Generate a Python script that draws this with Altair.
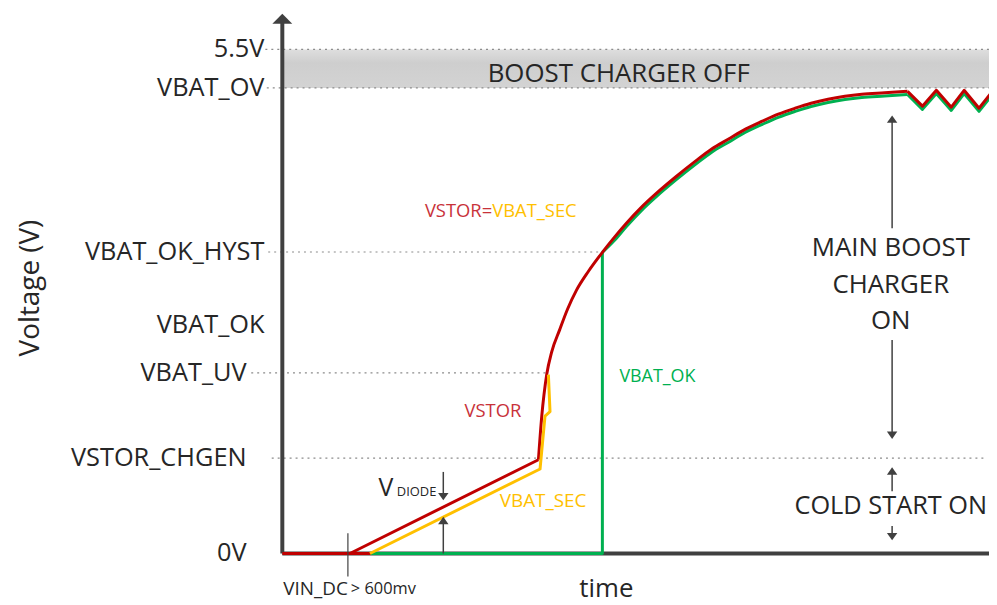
import altair as alt
import pandas as pd

FONT = "Open Sans"
DARK = "#404040"
TXT = "#262626"
RED = "#c00000"
RED_TXT = "#c8323a"
YEL = "#ffc000"
GRN = "#00b050"

# ---- voltage levels (y tick labels) ----
level_names = ["0V", "VSTOR_CHGEN", "VBAT_UV", "VBAT_OK", "VBAT_OK_HYST", "VBAT_OV", "5.5V"]
level_v = [0.0, 1.04, 1.97, 2.49, 3.29, 5.08, 5.5]

# ---- traces (time in arbitrary units 0..100, voltage) ----
red_t = [0, 12.4, 9.56, 36.24, 36.71, 37.41, 38.12, 39.24, 40.37, 41.63, 43.32, 45.29,
         46.98, 48.66, 50.77, 52.88, 55.70, 58.51, 60.76, 63.15, 65.54, 67.93, 70.18,
         72.57, 74.82, 77.22, 79.61, 82.00, 85.23, 88.47, 90.58, 92.55, 94.66, 96.48,
         98.59, 100.28]
red_v = [0, 0, 0, 1.023, 1.497, 1.952, 2.20, 2.440, 2.668, 2.874, 3.080, 3.286,
         3.449, 3.601, 3.774, 3.926, 4.111, 4.284, 4.414, 4.523, 4.631, 4.718, 4.794,
         4.859, 4.913, 4.957, 4.989, 5.011, 5.027, 5.043, 4.881, 5.054, 4.870, 5.054,
         4.859, 5.022]

green_t = [12.4, 45.29, 45.29, 46.98, 48.66, 50.77, 52.88, 55.70, 58.51, 60.76, 63.15,
           65.54, 67.93, 70.18, 72.57, 74.82, 77.22, 79.61, 82.00, 85.23, 88.47, 90.58,
           92.55, 94.66, 96.48, 98.59, 100.28]
green_v = [0, 0, 3.286, 3.415, 3.566, 3.739, 3.891, 4.076, 4.249, 4.379, 4.488,
           4.596, 4.683, 4.759, 4.824, 4.878, 4.922, 4.954, 4.976, 4.992, 5.008, 4.846,
           5.019, 4.835, 5.019, 4.824, 4.987]

yellow_t = [12.4, 36.47, 37.17, 37.88, 37.65]
yellow_v = [0, 0.922, 1.50, 1.548, 1.952]

XS = alt.Scale(domain=[0, 100], nice=False, zero=False)
YS = alt.Scale(domain=[0, 5.9], nice=False, zero=False)


def X(f="t"):
    return alt.X(f"{f}:Q", scale=XS, axis=None)


def Y(f="v"):
    return alt.Y(f"{f}:Q", scale=YS, axis=None)


def series(ts, vs, color, width=3, interp="linear"):
    df = pd.DataFrame({"t": ts, "v": vs, "i": list(range(len(ts)))})
    return alt.Chart(df).mark_line(color=color, strokeWidth=width, strokeJoin="round",
                                   interpolate=interp).encode(x=X(), y=Y(), order="i:Q")


def seg(t0, t1, v0, v1, color=DARK, width=1.5, dash=None):
    df = pd.DataFrame({"t0": [t0], "t1": [t1], "v0": [v0], "v1": [v1]})
    kw = dict(color=color, strokeWidth=width, strokeCap="butt")
    if dash:
        kw["strokeDash"] = dash
    return alt.Chart(df).mark_rule(**kw).encode(x=X("t0"), x2="t1:Q", y=Y("v0"), y2="v1:Q")


def head(t, v, path, size, color=DARK):
    df = pd.DataFrame({"t": [t], "v": [v]})
    return alt.Chart(df).mark_point(shape=path, size=size, filled=True, color=color,
                                    opacity=1, strokeWidth=0).encode(x=X(), y=Y())


def txt(label, t, v, size=16, color=TXT, align="center", baseline="middle"):
    df = pd.DataFrame({"t": [t], "v": [v], "label": [label]})
    return alt.Chart(df).mark_text(font=FONT, fontSize=size, color=color, align=align,
                                   baseline=baseline).encode(x=X(), y=Y(), text="label:N")


UP = "M-1,0.7L0,-0.7L1,0.7Z"
DOWN = "M-1,-0.7L0,0.7L1,-0.7Z"
BIG_UP = "M-1,0.5L0,-0.5L1,0.5Z"
RIGHT = "M-0.5,-1L0.5,0L-0.5,1Z"

grad = alt.Gradient(gradient="linear", x1=0, x2=0, y1=0, y2=1,
                    stops=[alt.GradientStop(offset=0, color="#dedede"),
                           alt.GradientStop(offset=0.35, color="#cecece"),
                           alt.GradientStop(offset=1, color="#d3d3d3")])
band = alt.Chart(pd.DataFrame({"t0": [0], "t1": [100.5], "v0": [level_v[5]], "v1": [level_v[6]]})
                 ).mark_rect(fill=grad).encode(x=X("t0"), x2="t1:Q", y=Y("v0"), y2="v1:Q")

DOT = [2, 4]
GC = "#8c8c8c"
grid = [
    seg(-2.4, 100.5, 5.5, 5.5, GC, 1.2, DOT),
    seg(-2.2, 100.5, 5.08, 5.08, GC, 1.2, DOT),
    seg(-2.0, 45.29, 3.29, 3.29, GC, 1.2, DOT),
    seg(-4.4, 37.4, 1.97, 1.97, GC, 1.2, DOT),
    seg(-1.5, 99.3, 1.04, 1.04, GC, 1.2, DOT),
]

axes = [
    seg(0, 0, 0, 5.80, DARK, 4),
    seg(0, 101, 0, 0, DARK, 4),
    head(0, 5.835, BIG_UP, 400),
    head(100.7, 0, RIGHT, 300),
]

lv = pd.DataFrame({"v": level_v, "label": level_names})
labels_hi = alt.Chart(lv[lv["v"] >= 2.4]).mark_text(
    font=FONT, fontSize=25.5, color=TXT, align="right", baseline="middle").encode(
    x=alt.value(-18), y=Y(), text="label:N")
labels_lo = alt.Chart(lv[lv["v"] < 2.4]).mark_text(
    font=FONT, fontSize=25.5, color=TXT, align="right", baseline="middle").encode(
    x=alt.value(-36), y=Y(), text="label:N")

ytitle = alt.Chart(pd.DataFrame({"label": ["Voltage (V)"]})).mark_text(
    font=FONT, fontSize=28, color=TXT, angle=270, align="center", baseline="middle").encode(
    x=alt.value(-253), y=alt.value(277), text="label:N")

arrows = [
    # main boost charger range
    seg(86.29, 86.29, 4.74, 3.55), head(86.29, 4.74, UP, 110),
    seg(86.29, 86.29, 2.33, 1.29), head(86.29, 1.29, DOWN, 110),
    # cold start range
    seg(86.29, 86.29, 0.90, 0.68), head(86.29, 0.90, UP, 110),
    seg(86.29, 86.29, 0.30, 0.185), head(86.29, 0.185, DOWN, 110),
    # V diode
    seg(22.78, 22.78, 0.89, 0.62), head(22.78, 0.62, DOWN, 110),
    seg(22.78, 22.78, 0.0, 0.36), head(22.78, 0.36, UP, 110),
    # VIN_DC tick
    seg(9.28, 9.28, 0.22, -0.25, DARK, 1.2),
]

texts = [
    txt("BOOST CHARGER OFF", 47.6, 5.23, 26),
    txt("MAIN BOOST", 86.1, 3.33, 26),
    txt("CHARGER", 86.1, 2.93, 26),
    txt("ON", 86.1, 2.54, 26),
    txt("COLD START ON", 86.1, 0.52, 25.5),
    txt("VSTOR=", 29.7, 3.74, 18.5, RED_TXT, "right"),
    txt("VBAT_SEC", 29.7, 3.74, 18.5, YEL, "left"),
    txt("VSTOR", 29.8, 1.55, 18.5, RED_TXT),
    txt("VBAT_SEC", 36.9, 0.575, 19, YEL),
    txt("VBAT_OK", 47.7, 1.93, 18, GRN, "left"),
    txt("V", 13.6, 0.63, 25, TXT, "left", "alphabetic"),
    txt("DIODE", 16.2, 0.63, 13, TXT, "left", "alphabetic"),
    txt("VIN_DC", 0.14, -0.39, 19, TXT, "left"),
    txt("> 600mv", 9.7, -0.39, 16.5, TXT, "left"),
    txt("time", 45.85, -0.48, 26, TXT, "center", "alphabetic"),
]

lines = [
    series(green_t[0:3], green_v[0:3], GRN),
    series(green_t[2:21], green_v[2:21], GRN, interp="monotone"),
    series(green_t[20:], green_v[20:], GRN),
    series(red_t[0:4], red_v[0:4], RED),
    series(red_t[3:30], red_v[3:30], RED, interp="monotone"),
    series(red_t[29:], red_v[29:], RED),
    series(yellow_t, yellow_v, YEL),
]

chart = alt.layer(
    band, *grid, *axes, *lines,
    *arrows, labels_hi, labels_lo, ytitle, *texts,
).properties(
    width=711, height=544, autosize="none", background="white",
    padding={"left": 276, "top": 3, "right": 0, "bottom": 50},
).configure_view(stroke="transparent", strokeWidth=0)

chart.save("out.html", embed_options={"renderer": "svg", "actions": False})
